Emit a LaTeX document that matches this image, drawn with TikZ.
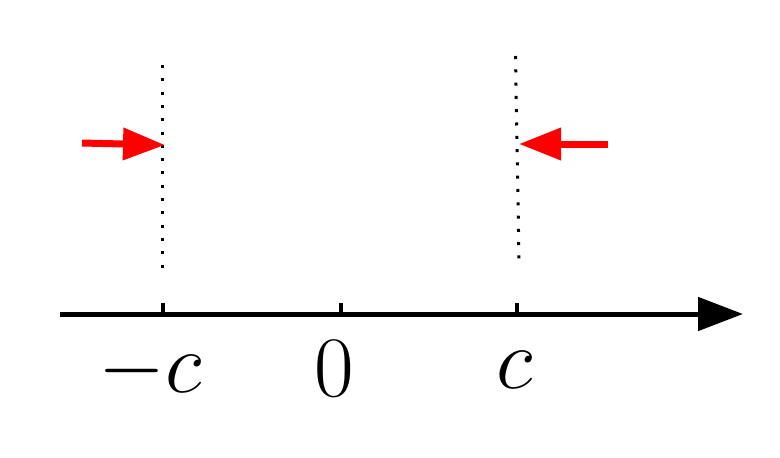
\documentclass[tikz,border=0pt]{standalone}
\usetikzlibrary{arrows.meta}
\begin{document}
\begin{tikzpicture}[x=1pt,y=-1pt,
  axisline/.style={line width=5pt,-{Triangle[length=45pt,width=33pt]}},
  tickline/.style={line width=3.5pt},
  dotline/.style={line width=3pt,dash pattern=on 3pt off 10.3pt},
  redarrow/.style={red,line width=7pt,-{Triangle[length=42pt,width=31pt]}},
  lab/.style={font=\fontsize{24.88}{30}\selectfont,scale=3.46,transform shape,inner sep=0pt,anchor=base}]
\useasboundingbox (0,0) rectangle (780,458);
% axis
\coordinate (a0) at (60,314);
\coordinate (a1) at (743,314);
\draw[axisline] (a0) -- (a1);
% ticks
\coordinate (t1a) at (163,314); \coordinate (t1b) at (163,303);
\coordinate (t2a) at (341,314); \coordinate (t2b) at (341,303);
\coordinate (t3a) at (517,314); \coordinate (t3b) at (517,303);
\draw[tickline] (t1a) -- (t1b);
\draw[tickline] (t2a) -- (t2b);
\draw[tickline] (t3a) -- (t3b);
% dotted lines
\coordinate (d1a) at (162,65); \coordinate (d1b) at (162,270);
\coordinate (d2a) at (515.5,56); \coordinate (d2b) at (519,260);
\draw[dotline] (d1a) -- (d1b);
\draw[dotline] (d2a) -- (d2b);
% red arrows
\coordinate (r1a) at (82,143); \coordinate (r1b) at (165,145);
\coordinate (r2a) at (608,144); \coordinate (r2b) at (519,144);
\draw[redarrow] (r1a) -- (r1b);
\draw[redarrow] (r2a) -- (r2b);
% labels
\node[lab] (lmc) at (150,392) {$-c$};
\node[lab] (l0) at (334,396) {$0$};
\node[lab] (lc) at (515,388) {$c$};
\end{tikzpicture}
\end{document}
